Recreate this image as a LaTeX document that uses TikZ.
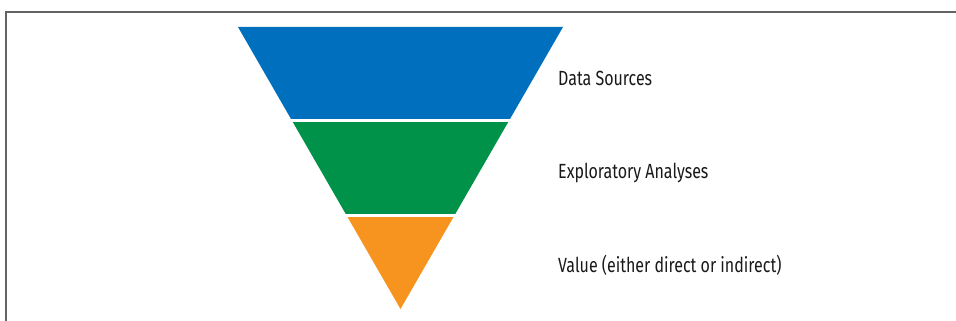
\documentclass[tikz,border=0pt]{standalone}
\usepackage{fontspec}
\setmainfont{Fira Sans}[FakeStretch=0.78]
\usepackage{tikz}
\usetikzlibrary{calc}
\definecolor{funnelblue}{RGB}{0,112,190}
\definecolor{funnelgreen}{RGB}{0,146,72}
\definecolor{funnelorange}{RGB}{247,148,32}
\definecolor{framegray}{RGB}{100,100,100}
\tikzstyle{label}=[anchor=base west, inner sep=0pt, text=black!90, font=\fontsize{20.5}{24}\selectfont]

\begin{document}
\begin{tikzpicture}[x=1pt, y=-1pt]
    \useasboundingbox (0,0) rectangle (956,321);
    \draw[framegray, line width=1.5pt] (6,321) -- (6,12) -- (956,12);

    \coordinate (tl) at (238,27);
    \coordinate (tr) at (563,27);
    \coordinate (apex) at (400.5,309);

    \fill[funnelblue] (tl) -- (tr) -- ($(tr)!0.3262!(apex)$) -- ($(tl)!0.3262!(apex)$) -- cycle;
    \fill[funnelgreen] ($(tl)!0.3369!(apex)$) -- ($(tr)!0.3369!(apex)$) -- ($(tr)!0.6631!(apex)$) -- ($(tl)!0.6631!(apex)$) -- cycle;
    \fill[funnelorange] ($(tl)!0.6738!(apex)$) -- ($(tr)!0.6738!(apex)$) -- (apex) -- cycle;

    \node[label] (sources) at (558,85) {Data Sources};
    \node[label] (explore) at (558,178) {Exploratory Analyses};
    \node[label] (value) at (558,272) {Value (either direct or indirect)};
\end{tikzpicture}
\end{document}
